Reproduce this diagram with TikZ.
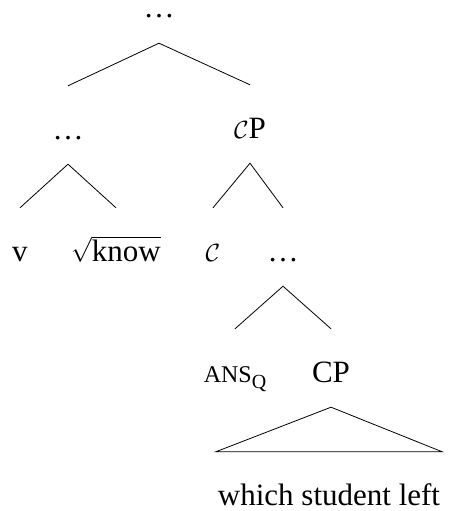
\documentclass[tikz,border=0pt]{standalone}
\usepackage{fontspec}
\setmainfont{Liberation Serif}
\usetikzlibrary{positioning}
\tikzset{
  treenode/.style={anchor=base, inner sep=0pt, text height=53pt, text depth=25pt},
  topnode/.style={treenode, text height=12pt, text depth=25pt},
  leafnode/.style={anchor=base, inner xsep=2pt, inner ysep=0pt, text height=53pt},
  branch/.style={draw=black, line width=0.8pt}
}
\newcommand{\ansq}{{\fontsize{24}{26}\selectfont ANS}\raisebox{-6pt}{\fontsize{20}{22}\selectfont Q}}

\begin{document}
\begin{tikzpicture}[x=1pt, y=-1pt, font=\fontsize{31}{36}\selectfont]
  \useasboundingbox (0,0) rectangle (451,511);

  % Root and first split
  \node[topnode] (root) at (159,18) {\ldots};
  \node[treenode] (left) at (68,139) {\ldots};
  \node[treenode] (cp) at (250,138) {$\mathcal{C}$P};

  % Lower left: v and root
  \node[treenode] (v) at (20,261) {v};
  \node[treenode] (know) at (116,261) {$\sqrt{\mbox{know}}$};

  % Lower right: C head and its complement
  \node[treenode] (chead) at (213,261) {$\mathcal{C}$};
  \node[treenode] (mid) at (283,261) {\ldots};

  % Answer operator and embedded question
  \node[treenode] (ans) at (235,382) {\ansq};
  \node[treenode] (cpq) at (331,382) {CP};
  \node[leafnode] (sent) at (329,505) {which student left};

  % Branches
  \draw[branch] (left.north) -- (root.south) -- (cp.north);
  \draw[branch] (v.north) -- (left.south) -- (know.north);
  \draw[branch] (chead.north) -- (cp.south) -- (mid.north);
  \draw[branch] (ans.north) -- (mid.south) -- (cpq.north);
  \draw[branch] (cpq.south) -- (sent.north west) -- (sent.north east) -- cycle;

\end{tikzpicture}
\end{document}
